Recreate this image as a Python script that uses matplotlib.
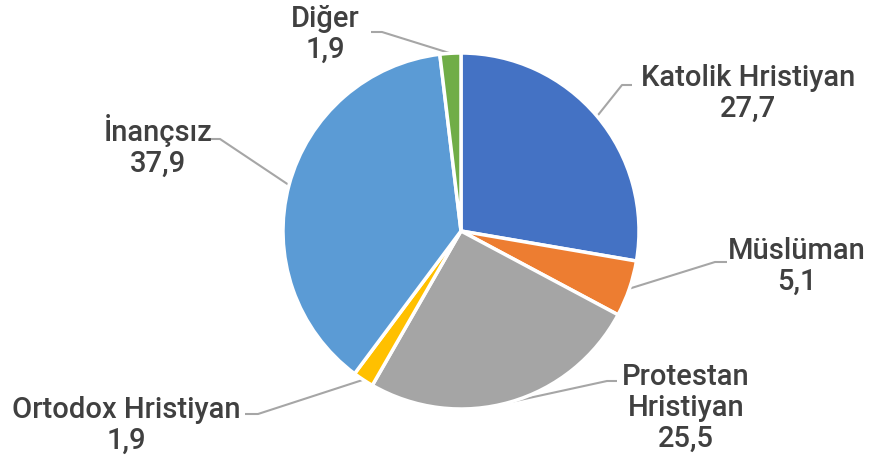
import matplotlib
matplotlib.use("Agg")
import matplotlib.pyplot as plt
import numpy as np

categories = ["Katolik Hristiyan", "Müslüman", "Protestan\nHristiyan", "Ortodox Hristiyan", "İnançsız", "Diğer"]
values = [27.7, 5.1, 25.5, 1.9, 37.9, 1.9]
value_labels = ["27,7", "5,1", "25,5", "1,9", "37,9", "1,9"]
colors = ["#4472C4", "#ED7D31", "#A5A5A5", "#FFC000", "#5B9BD5", "#70AD47"]

W, H = 869, 462
fig = plt.figure(figsize=(W / 100, H / 100), dpi=100)
ax = fig.add_axes([0, 0, 1, 1])
ax.set_xlim(0, W)
ax.set_ylim(0, H)
ax.axis("off")

cx, cy, R = 461, H - 231, 178
wedges, _ = ax.pie(values, colors=colors, startangle=90, counterclock=False,
                   center=(cx, cy), radius=R,
                   wedgeprops=dict(edgecolor="white", linewidth=2.5))
ax.set_xlim(0, W)
ax.set_ylim(0, H)
ax.set_aspect("equal")

# label layout (image pixel coords, y from top): text center, elbow end, elbow start
label_pos = [(748, 93), (797, 266), (686, 408), (126, 425), (158, 146), (325, 34)]
elbows = [((622, 85), (632, 85)), ((715, 262), (727, 262)), ((607, 381), (617, 381)),
          ((258, 414), (245, 414)), ((220, 139), (208, 139)), ((382, 32), (371, 32))]

txtcolor = "#404040"
for w, cat, vl, (tx, ty), (e1, e2) in zip(wedges, categories, value_labels, label_pos, elbows):
    ang = np.deg2rad((w.theta1 + w.theta2) / 2)
    px = cx + R * np.cos(ang)
    py = cy + R * np.sin(ang)
    xs = [px, e1[0], e2[0]]
    ys = [py, H - e1[1], H - e2[1]]
    ax.plot(xs, ys, color="#A6A6A6", lw=1.5, solid_capstyle="butt", zorder=0.5)
    ax.text(tx, H - ty, f"{cat}\n{vl}", ha="center", va="center", multialignment="center",
            fontsize=21, fontfamily="Roboto", fontweight="medium", color=txtcolor,
            linespacing=1.13)

fig.savefig("out.png", dpi=100)
